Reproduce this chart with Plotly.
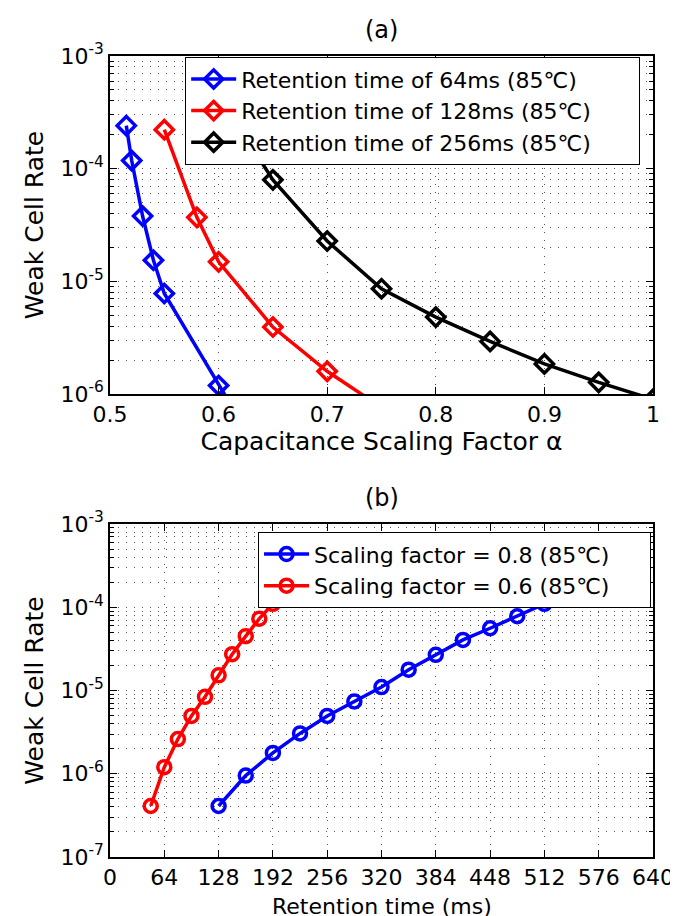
import plotly.graph_objects as go
from plotly.subplots import make_subplots

# ---- data: panel (a) ----
alpha_64 = [0.515, 0.52, 0.53, 0.54, 0.55, 0.60, 0.65]
rate_64 = [2.41e-4, 1.18e-4, 3.8e-5, 1.54e-5, 7.8e-6, 1.19e-6, 1.9e-7]
alpha_128 = [0.55, 0.58, 0.60, 0.65, 0.70, 0.75]
rate_128 = [2.22e-4, 3.7e-5, 1.49e-5, 3.93e-6, 1.59e-6, 7.6e-7]
alpha_256 = [0.60, 0.65, 0.70, 0.75, 0.80, 0.85, 0.90, 0.95, 1.00]
rate_256 = [4.5e-4, 7.96e-5, 2.28e-5, 8.6e-6, 4.82e-6, 2.93e-6, 1.85e-6, 1.27e-6, 8.97e-7]

# ---- data: panel (b) ----
ret_08 = [128, 160, 192, 224, 256, 288, 320, 352, 384, 416, 448, 480, 512]
rate_08 = [4.1e-7, 9.5e-7, 1.78e-6, 3.05e-6, 4.95e-6, 7.4e-6, 1.1e-5, 1.78e-5,
           2.68e-5, 4.05e-5, 5.6e-5, 7.8e-5, 1.1e-4]
ret_06 = [48, 64, 80, 96, 112, 128, 144, 160, 176, 192]
rate_06 = [4.1e-7, 1.2e-6, 2.61e-6, 4.95e-6, 8.4e-6, 1.52e-5, 2.73e-5, 4.5e-5, 7.3e-5, 1.1e-4]

# ---- tick labels ----
xa_ticks = [0.5, 0.6, 0.7, 0.8, 0.9, 1.0]
xa_text = ["0.5", "0.6", "0.7", "0.8", "0.9", "1"]
ya_ticks = [1e-6, 1e-5, 1e-4, 1e-3]
ya_text = ["10<sup>-6</sup>", "10<sup>-5</sup>", "10<sup>-4</sup>", "10<sup>-3</sup>"]
xb_ticks = [0, 64, 128, 192, 256, 320, 384, 448, 512, 576, 640]
xb_text = [str(v) for v in xb_ticks]
yb_ticks = [1e-7, 1e-6, 1e-5, 1e-4, 1e-3]
yb_text = ["10<sup>-7</sup>", "10<sup>-6</sup>", "10<sup>-5</sup>", "10<sup>-4</sup>", "10<sup>-3</sup>"]

FONT = "DejaVu Sans"

fig = make_subplots(rows=2, cols=1)

def add(x, y, color, name, symbol, size, row, legend):
    fig.add_trace(go.Scatter(
        x=x, y=y, mode="lines+markers", name=name,
        line=dict(color=color, width=3.5),
        marker=dict(symbol=symbol, size=size, color=color,
                    line=dict(color=color, width=3.5)),
        legend=legend), row=row, col=1)

add(alpha_64, rate_64, "#0000ff", "Retention time of 64ms (85℃)", "diamond-open", 14, 1, "legend")
add(alpha_128, rate_128, "#ff0000", "Retention time of 128ms (85℃)", "diamond-open", 14, 1, "legend")
add(alpha_256, rate_256, "#000000", "Retention time of 256ms (85℃)", "diamond-open", 14, 1, "legend")
add(ret_08, rate_08, "#0000ff", "Scaling factor = 0.8 (85℃)", "circle-open", 13, 2, "legend2")
add(ret_06, rate_06, "#ff0000", "Scaling factor = 0.6 (85℃)", "circle-open", 13, 2, "legend2")

DOT = "1px,7px"
grid = dict(showgrid=True, gridcolor="#555555", griddash=DOT, gridwidth=1)
common = dict(showline=True, linecolor="black", linewidth=1.5, mirror="allticks",
              ticks="inside", ticklen=7, tickcolor="black", zeroline=False,
              tickfont=dict(family=FONT, size=22, color="black"),
              title_font=dict(family=FONT, size=25, color="black"))
ylog_minor = dict(ticks="inside", ticklen=4, tickcolor="black", dtick="D1",
                  showgrid=True, gridcolor="#555555", griddash=DOT, gridwidth=1)

fig.update_xaxes(range=[0.5, 1.0], tickvals=xa_ticks, ticktext=xa_text,
                 title_text="Capacitance Scaling Factor α", title_standoff=2,
                 **grid, **common, row=1, col=1)
fig.update_yaxes(type="log", range=[-6, -3], tickvals=ya_ticks, ticktext=ya_text,
                 title_text="Weak Cell Rate", title_standoff=10,
                 minor=ylog_minor, **grid, **common, row=1, col=1)
fig.update_xaxes(range=[0, 640], tickvals=xb_ticks, ticktext=xb_text,
                 **grid, **common, row=2, col=1)
fig.update_yaxes(type="log", range=[-7, -3], tickvals=yb_ticks, ticktext=yb_text,
                 title_text="Weak Cell Rate", title_standoff=10,
                 minor=ylog_minor, **grid, **common, row=2, col=1)

fig.update_layout(yaxis=dict(domain=[0.578, 1.0]), yaxis2=dict(domain=[0.0, 0.4157]))

leg = dict(bgcolor="white", bordercolor="black", borderwidth=1.2,
           font=dict(family=FONT, size=22, color="black"),
           orientation="h", entrywidthmode="pixels",
           xanchor="right", yanchor="top", itemwidth=45, tracegroupgap=0)
fig.update_layout(
    legend=dict(x=0.976, y=0.9988, entrywidth=392, **leg),
    legend2=dict(x=0.996, y=0.4057, entrywidth=330, **leg),
    width=678, height=916,
    margin=dict(l=102, r=23, t=48, b=67),
    paper_bgcolor="white", plot_bgcolor="white",
    font=dict(family=FONT, size=22, color="black"),
    showlegend=True,
)
fig.add_annotation(text="(a)", xref="paper", yref="paper", x=0.5, y=1.0, yshift=10,
                   showarrow=False, yanchor="bottom", font=dict(family=FONT, size=24))
fig.add_annotation(text="(b)", xref="paper", yref="paper", x=0.5, y=0.4157, yshift=10,
                   showarrow=False, yanchor="bottom", font=dict(family=FONT, size=24))
fig.add_annotation(text="Retention time (ms)", xref="paper", yref="paper", x=0.5,
                   y=-67 / 801, yshift=3, showarrow=False, yanchor="bottom",
                   font=dict(family=FONT, size=22, color="black"))

fig.write_html("out.html")
